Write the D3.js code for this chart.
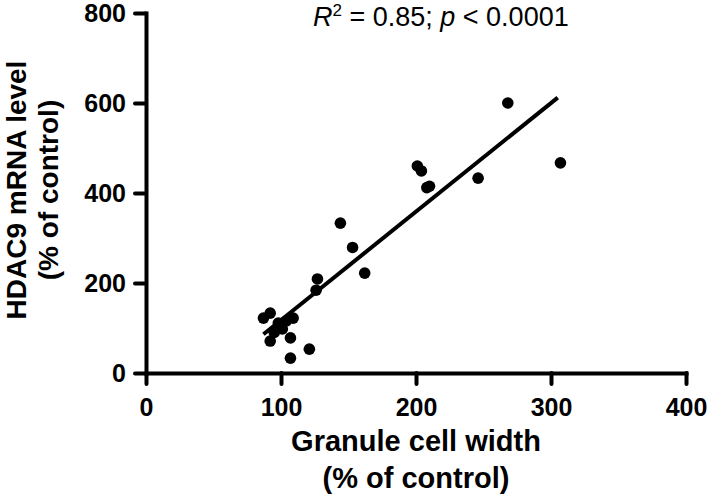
<!DOCTYPE html>
<html>
<head>
<meta charset="utf-8">
<script src="https://cdn.jsdelivr.net/npm/d3@7"></script>
<style>
  html, body { margin: 0; padding: 0; background: #fff; }
  svg { display: block; font-family: "Liberation Sans", Arial, sans-serif; }
</style>
</head>
<body>
<svg id="chart" width="709" height="500"></svg>
<script>
// ---- data ----
const cellWidth = [87, 92, 98, 104, 109, 101, 92, 107, 121, 107, 95, 126, 127, 144, 153, 162, 201, 204, 208, 210, 246, 268, 307];
const hdac9     = [122, 133, 111, 116, 122, 98, 71, 78, 53, 33, 90, 184, 209, 333, 279, 222, 460, 449, 412, 415, 433, 600, 467];
const fitX = [87, 305];
const fitY = [86, 612];
const xTicks = [0, 100, 200, 300, 400];
const yTicks = [0, 200, 400, 600, 800];
const xTitle = ["Granule cell width", "(% of control)"];
const yTitle = ["HDAC9 mRNA level", "(% of control)"];

// ---- layout ----
const svg = d3.select("#chart");
const x = d3.scaleLinear().domain([0, 400]).range([146, 686]);
const y = d3.scaleLinear().domain([0, 800]).range([373, 13]);

// axes
const xAxis = svg.append("g")
  .attr("transform", `translate(0,${y(0)})`)
  .call(d3.axisBottom(x).tickValues(xTicks).tickSize(11).tickSizeOuter(0).tickPadding(14));
const yAxis = svg.append("g")
  .attr("transform", `translate(${x(0)},0)`)
  .call(d3.axisLeft(y).tickValues(yTicks).tickSize(11).tickSizeOuter(0).tickPadding(9));

[xAxis, yAxis].forEach(g => {
  g.select(".domain").attr("stroke", "#000").attr("stroke-width", 4).attr("stroke-linecap", "square");
  g.selectAll(".tick line").attr("stroke", "#000").attr("stroke-width", 4).attr("stroke-linecap", "round");
  g.selectAll(".tick text")
    .attr("fill", "#000")
    .style("font-family", "'Liberation Sans', Arial, sans-serif")
    .style("font-size", "25px")
    .style("font-weight", "bold");
});

// regression line
svg.append("line")
  .attr("x1", x(fitX[0])).attr("y1", y(fitY[0]))
  .attr("x2", x(fitX[1])).attr("y2", y(fitY[1]))
  .attr("stroke", "#000").attr("stroke-width", 4);

// points
svg.append("g").selectAll("circle")
  .data(cellWidth.map((d, i) => [d, hdac9[i]]))
  .join("circle")
  .attr("cx", d => x(d[0]))
  .attr("cy", d => y(d[1]))
  .attr("r", 5.8)
  .attr("fill", "#000");

// y title
const yt = svg.append("text")
  .attr("transform", `translate(0,190) rotate(-90)`)
  .attr("text-anchor", "middle")
  .style("font-size", "28px").style("font-weight", "bold");
yt.append("tspan").attr("x", 0).attr("y", 26).text(yTitle[0]);
yt.append("tspan").attr("x", 0).attr("y", 58).text(yTitle[1]);

// x title
const xt = svg.append("text")
  .attr("text-anchor", "middle")
  .style("font-size", "29px").style("font-weight", "bold");
xt.append("tspan").attr("x", 416).attr("y", 451).text(xTitle[0]);
xt.append("tspan").attr("x", 416).attr("y", 488).text(xTitle[1]);

// stats annotation
const st = svg.append("text")
  .attr("x", 313).attr("y", 26)
  .style("font-size", "27px");
st.append("tspan").style("font-style", "italic").text("R");
st.append("tspan").attr("dy", -10).style("font-size", "17px").text("2");
st.append("tspan").attr("dy", 10).text(" = 0.85; ");
st.append("tspan").style("font-style", "italic").text("p");
st.append("tspan").text(" < 0.0001");
</script>
</body>
</html>
